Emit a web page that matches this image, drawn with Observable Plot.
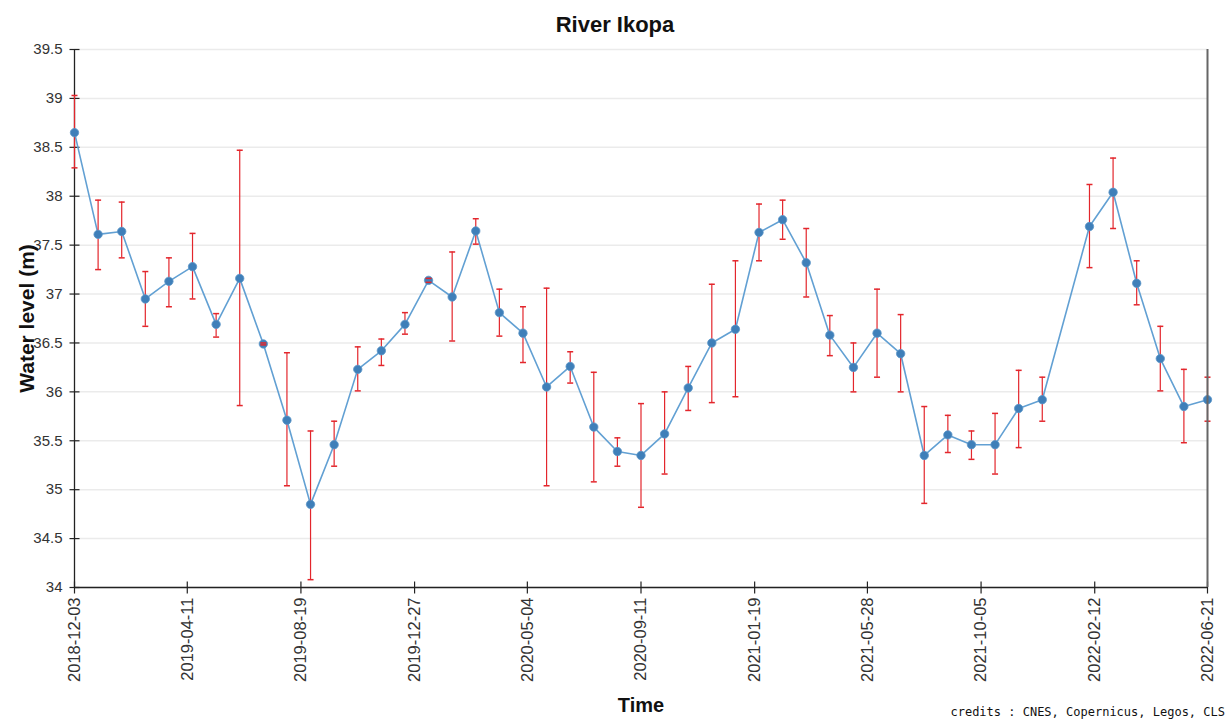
<!DOCTYPE html>
<html>
<head>
<meta charset="utf-8">
<script src="https://cdn.jsdelivr.net/npm/d3@7"></script>
<script src="https://cdn.jsdelivr.net/npm/@observablehq/plot@0.6"></script>
<style>
  body { margin: 0; background: #fff; font-family: "Liberation Sans", Arial, sans-serif; }
  #wrap { position: relative; width: 1230px; height: 720px; overflow: hidden; }
  #title { height: 40px; box-sizing: border-box; padding-top: 12px; text-align: center; font-size: 22px; font-weight: bold; color: #111; line-height: 26px; }
  #chart svg { display: block; }
  #credits { position: absolute; right: 5px; top: 705px; font-family: "DejaVu Sans Mono", "Liberation Mono", monospace; font-size: 12px; color: #111; line-height: 14px; }
</style>
</head>
<body>
<div id="wrap">
  <div id="title">River Ikopa</div>
  <div id="chart"></div>
  <div id="credits">credits : CNES, Copernicus, Legos, CLS</div>
</div>
<script>
// ---- data ----
const dates = [
  "2018-12-03","2018-12-30","2019-01-26","2019-02-22","2019-03-21","2019-04-17","2019-05-14","2019-06-10",
  "2019-07-07","2019-08-03","2019-08-30","2019-09-26","2019-10-23","2019-11-19","2019-12-16","2020-01-12",
  "2020-02-08","2020-03-06","2020-04-02","2020-04-29","2020-05-26","2020-06-22","2020-07-19","2020-08-15",
  "2020-09-11","2020-10-08","2020-11-04","2020-12-01","2020-12-28","2021-01-24","2021-02-20","2021-03-19",
  "2021-04-15","2021-05-12","2021-06-08","2021-07-05","2021-08-01","2021-08-28","2021-09-24","2021-10-21",
  "2021-11-17","2021-12-14","2022-02-06","2022-03-05","2022-04-01","2022-04-28","2022-05-25","2022-06-21"
];
const level = [
  38.65, 37.61, 37.64, 36.95, 37.13, 37.28, 36.69, 37.16,
  36.49, 35.71, 34.85, 35.46, 36.23, 36.42, 36.69, 37.14,
  36.97, 37.645, 36.81, 36.60, 36.05, 36.26, 35.64, 35.39,
  35.35, 35.57, 36.04, 36.50, 36.64, 37.63, 37.76, 37.32,
  36.58, 36.25, 36.60, 36.39, 35.35, 35.56, 35.46, 35.46,
  35.83, 35.92, 37.69, 38.04, 37.11, 36.34, 35.85, 35.92
];
const levelLow = [
  38.29, 37.25, 37.37, 36.67, 36.87, 36.95, 36.56, 35.86,
  36.48, 35.04, 34.08, 35.24, 36.01, 36.27, 36.59, 37.12,
  36.52, 37.51, 36.57, 36.30, 35.04, 36.09, 35.08, 35.24,
  34.82, 35.16, 35.81, 35.89, 35.95, 37.34, 37.56, 36.97,
  36.37, 36.00, 36.15, 36.00, 34.86, 35.38, 35.31, 35.16,
  35.43, 35.70, 37.27, 37.67, 36.89, 36.01, 35.48, 35.70
];
const levelHigh = [
  39.03, 37.96, 37.94, 37.23, 37.37, 37.62, 36.80, 38.47,
  36.50, 36.40, 35.60, 35.70, 36.46, 36.54, 36.81, 37.16,
  37.43, 37.77, 37.05, 36.87, 37.06, 36.41, 36.20, 35.53,
  35.88, 36.00, 36.26, 37.10, 37.34, 37.92, 37.96, 37.67,
  36.78, 36.50, 37.05, 36.79, 35.85, 35.76, 35.60, 35.78,
  36.22, 36.15, 38.12, 38.39, 37.34, 36.67, 36.23, 36.15
];
const xTickLabels = ["2018-12-03","2019-04-11","2019-08-19","2019-12-27","2020-05-04","2020-09-11",
                     "2021-01-19","2021-05-28","2021-10-05","2022-02-12","2022-06-21"];
const yTicks = [34, 34.5, 35, 35.5, 36, 36.5, 37, 37.5, 38, 38.5, 39, 39.5];
const xDomain = ["2018-12-03", "2022-06-21"];
const yDomain = [34, 39.5];

// ---- build ----
const parse = d3.utcParse("%Y-%m-%d");
const fmt = d3.utcFormat("%Y-%m-%d");
const data = dates.map((d, i) => ({date: parse(d), v: level[i], lo: levelLow[i], hi: levelHigh[i]}));
const xDom = xDomain.map(parse);
const xTicks = xTickLabels.map(parse);

const hline = {draw(ctx, size) { const w = Math.sqrt(size / Math.PI); ctx.moveTo(-w, 0); ctx.lineTo(w, 0); }};
const vline = {draw(ctx, size) { const w = Math.sqrt(size / Math.PI); ctx.moveTo(0, -w); ctx.lineTo(0, w); }};

const red = "#e3262c";
const chart = Plot.plot({
  width: 1230,
  height: 680,
  marginTop: 9,
  marginLeft: 74,
  marginRight: 23,
  marginBottom: 133,
  style: {fontFamily: "'Liberation Sans', Arial, sans-serif", fontSize: "15px", color: "#333", background: "transparent"},
  x: {type: "utc", domain: xDom},
  y: {domain: yDomain},
  marks: [
    Plot.ruleY(yTicks, {stroke: "#ebebeb", strokeWidth: 1.5}),
    Plot.axisY({ticks: yTicks, tickSize: 0, tickPadding: 12, tickFormat: d => String(d), label: null, fill: "#333", fontSize: 15}),
    Plot.axisX({ticks: xTicks, tickSize: 0, tickPadding: 10, tickRotate: -90, tickFormat: fmt, label: null, fill: "#333", fontSize: 16.5}),
    Plot.text(["Water level (m)"], {text: d => d, frameAnchor: "left", textAnchor: "middle", dx: -47, rotate: -90, fontSize: 21, fontWeight: "bold", fill: "#111"}),
    Plot.text(["Time"], {text: d => d, frameAnchor: "bottom", textAnchor: "middle", dy: 124, fontSize: 20, fontWeight: "bold", fill: "#111"}),
    Plot.ruleX([xDom[0]], {stroke: "#222", strokeWidth: 1.3}),
    Plot.ruleY([yDomain[0]], {stroke: "#222", strokeWidth: 1.3}),
    Plot.dot(yTicks, {x: () => xDom[0], y: d => d, symbol: hline, r: 5, fill: "none", stroke: "#222", strokeWidth: 1.2}),
    Plot.dot(xTicks, {x: d => d, y: () => yDomain[0], symbol: vline, r: 6, fill: "none", stroke: "#222", strokeWidth: 1.2}),
    Plot.lineY(data, {x: "date", y: "v", stroke: "#62a0d3", strokeWidth: 1.6}),
    Plot.ruleX(data, {x: "date", y1: "lo", y2: "hi", stroke: red, strokeWidth: 1.2}),
    Plot.dot(data, {x: "date", y: "v", r: 4.2, fill: "#3f7fb9", stroke: "#5b95c8", strokeWidth: 0.8}),
    Plot.dot(data, {x: "date", y: "lo", symbol: hline, r: 3, fill: "none", stroke: red, strokeWidth: 1.5}),
    Plot.dot(data, {x: "date", y: "hi", symbol: hline, r: 3, fill: "none", stroke: red, strokeWidth: 1.5}),
    Plot.ruleX([xDom[1]], {stroke: "#666", strokeWidth: 2})
  ]
});
document.getElementById("chart").appendChild(chart);
</script>
</body>
</html>
